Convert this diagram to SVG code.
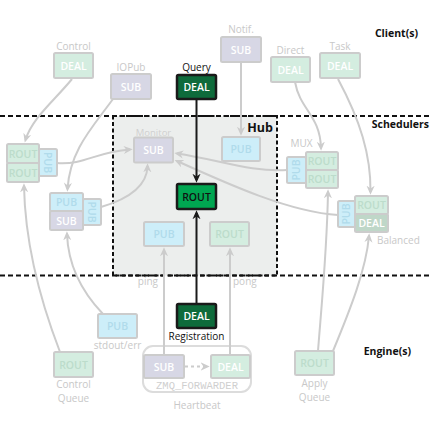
<svg xmlns="http://www.w3.org/2000/svg" width="432" height="432" viewBox="0 0 432 432">
<defs>
<style>
.bx{stroke:#cccccc;stroke-width:2}
.g{fill:#d4ede0}
.gd{fill:#bfd7c8}
.b{fill:#cdeef9}
.s{fill:#d7d7e5}
.t{font-family:"Open Sans","Liberation Sans",sans-serif;font-size:10.5px;font-weight:600;text-anchor:middle}
.tw{fill:#ffffff}
.tg{fill:#bcdccb}
.tb{fill:#b0dbeb}
.lb{font-family:"Open Sans","Liberation Sans",sans-serif;font-size:10px;fill:#c8c8c8;text-anchor:middle}
.lk{font-family:"Open Sans","Liberation Sans",sans-serif;font-size:10px;fill:#111111;text-anchor:middle}
.hd{font-family:"Open Sans","Liberation Sans",sans-serif;font-size:10.5px;font-weight:700;fill:#111111;text-anchor:end}
.c{fill:none;stroke:#cccccc;stroke-width:2;marker-end:url(#ag)}
.k{fill:none;stroke:#1a1a1a;stroke-width:2;marker-end:url(#ak)}
.sep{stroke:#111111;stroke-width:2;stroke-dasharray:5 3}
.hot{stroke:#1a1a1a;stroke-width:2.5}
</style>
<marker id="ag" viewBox="0 0 10 10" refX="7" refY="5" markerWidth="9" markerHeight="9" markerUnits="userSpaceOnUse" orient="auto">
<path d="M0,0.5 L10,5 L0,9.5 L3,5 z" fill="#cccccc"/>
</marker>
<marker id="ak" viewBox="0 0 10 10" refX="7" refY="5" markerWidth="9" markerHeight="9" markerUnits="userSpaceOnUse" orient="auto">
<path d="M0,0.5 L10,5 L0,9.5 L3,5 z" fill="#1a1a1a"/>
</marker>
</defs>
<rect width="432" height="432" fill="#ffffff"/>

<g id="hub-area">
<rect x="113" y="116" width="164" height="159.5" fill="#eceeed" stroke="#111111" stroke-width="2" stroke-dasharray="4 2.5"/>
<text x="273" y="132" class="hd" style="font-size:12.5px">Hub</text>
</g>
<g id="separators">
<line x1="0" y1="116" x2="432" y2="116" class="sep"/>
<line x1="0" y1="275.5" x2="432" y2="275.5" class="sep"/>
</g>
<g id="section-labels">
<text x="418" y="37" class="hd">Client(s)</text>
<text x="429" y="128" class="hd">Schedulers</text>
<text x="411" y="355" class="hd">Engine(s)</text>
</g>

<g id="heartbeat">
<rect x="143" y="346" width="108" height="46" rx="10" fill="#ffffff" stroke="#dcdcdc" stroke-width="2"/>
<text x="197" y="389" font-family="'Liberation Mono',monospace" font-size="10.5" fill="#cfcfcf" text-anchor="middle">ZMQ_FORWARDER</text>
<text x="197" y="409" class="lb">Heartbeat</text>
</g>

<g id="connectors">
<path class="c" d="M72,79 C55,100 32,118 25.5,140"/>
<path class="c" d="M113,99 C92,128 70,150 67.5,189"/>
<path class="c" d="M241,62 L241,133"/>
<path class="c" d="M295,82 C300,110 320,115 321,148"/>
<path class="c" d="M338,79 C360,120 371,155 370.5,192"/>
<path class="c" d="M57,163 C85,165 95,152 130,149.5"/>
<path class="c" d="M101,207 C125,200 147,188 147.5,166"/>
<path class="c" d="M287,170 C250,172 220,160 177,153.5"/>
<path class="c" d="M338,215 C290,212 230,185 177,161"/>
<path class="c" d="M164,355 L164,250"/>
<path class="c" d="M230,355 L230,250"/>
<path class="c" d="M60,352 C40,300 25,240 24,186"/>
<path class="c" d="M103,314 C80,290 68,262 67,234"/>
<path class="c" d="M318,351 C322,300 327,250 328,192"/>
<path class="c" d="M333,351 C350,310 366,270 369,236"/>
<path class="c" d="M185,366.5 L207,366.5" stroke-dasharray="3 3"/>
<path class="k" d="M196.5,99 L196.5,180"/>
<path class="k" d="M196.5,304 L196.5,213"/>
</g>

<g id="control-deal">
<text x="73.5" y="50" class="lb">Control</text>
<rect x="54" y="53" width="39" height="25" rx="1.5" class="bx g"/>
<text x="73.5" y="69.5" class="t tw">DEAL</text>
</g>
<g id="iopub-sub">
<text x="131" y="70.5" class="lb">IOPub</text>
<rect x="111" y="74" width="40" height="25" rx="1.5" class="bx s"/>
<text x="131" y="90.5" class="t tw">SUB</text>
</g>
<g id="query-deal">
<text x="196.5" y="71" class="lk">Query</text>
<rect x="177" y="75" width="39" height="24" rx="1.5" fill="#0e6b3b" class="hot"/>
<text x="196.5" y="91" class="t tw">DEAL</text>
</g>
<g id="notif-sub">
<text x="241" y="33" class="lb">Notif.</text>
<rect x="221" y="37" width="40" height="25" rx="1.5" class="bx s"/>
<text x="241" y="53.5" class="t tw">SUB</text>
</g>
<g id="direct-deal">
<text x="290.5" y="53.5" class="lb">Direct</text>
<rect x="271" y="57" width="39" height="25" rx="1.5" class="bx g"/>
<text x="290.5" y="73.5" class="t tw">DEAL</text>
</g>
<g id="task-deal">
<text x="340" y="49.5" class="lb">Task</text>
<rect x="320" y="53" width="40" height="25" rx="1.5" class="bx g"/>
<text x="340" y="69.5" class="t tw">DEAL</text>
</g>

<g id="control-sched">
<rect x="7" y="144" width="32" height="19" rx="1.5" class="bx g"/>
<rect x="7" y="163" width="32" height="19" rx="1.5" class="bx g"/>
<rect x="39" y="149" width="18" height="27" rx="1.5" class="bx b"/>
<text x="23" y="157.5" class="t tg">ROUT</text>
<text x="23" y="176.5" class="t tg">ROUT</text>
<text transform="translate(48,162.5) rotate(90)" x="0" y="3.8" class="t tb">PUB</text>
</g>
<g id="iopub-sched">
<rect x="50" y="193" width="33" height="18" rx="1.5" class="bx b"/>
<rect x="50" y="211" width="33" height="19" rx="1.5" class="bx s"/>
<rect x="83" y="199" width="18" height="26" rx="1.5" class="bx b"/>
<text x="66.5" y="206" class="t tb">PUB</text>
<text x="66.5" y="224.5" class="t tw">SUB</text>
<text transform="translate(92,212) rotate(90)" x="0" y="3.8" class="t tb">PUB</text>
</g>
<g id="monitor-sub">
<text x="153.5" y="136" class="lb" style="font-size:9.5px;fill:#d0d0d0">Monitor</text>
<rect x="134" y="137.5" width="39" height="25" rx="1.5" class="bx s"/>
<text x="153.5" y="154" class="t tw">SUB</text>
</g>
<g id="hub-notif-pub">
<rect x="222" y="137" width="38" height="24" rx="1.5" class="bx b"/>
<text x="241" y="153" class="t tb">PUB</text>
</g>
<g id="hub-rout">
<rect x="177" y="184" width="39" height="25" rx="1.5" fill="#00a651" class="hot"/>
<text x="196.5" y="200.5" class="t" fill="#111111">ROUT</text>
</g>
<g id="hub-hb-pub">
<rect x="144" y="222" width="40" height="24" rx="1.5" class="bx b"/>
<text x="164" y="238" class="t tb">PUB</text>
</g>
<g id="hub-hb-rout">
<rect x="210" y="222" width="39" height="24" rx="1.5" class="bx g"/>
<text x="229.5" y="238" class="t tg">ROUT</text>
</g>
<g id="mux">
<text x="301.5" y="146.5" class="lb">MUX</text>
<rect x="306" y="152" width="32" height="18" rx="1.5" class="bx g"/>
<rect x="306" y="170" width="32" height="18" rx="1.5" class="bx g"/>
<rect x="287" y="157" width="19" height="26" rx="1.5" class="bx b"/>
<text x="322" y="165" class="t tg">ROUT</text>
<text x="322" y="183" class="t tg">ROUT</text>
<text transform="translate(296.5,170) rotate(-90)" x="0" y="3.8" class="t tb">PUB</text>
</g>
<g id="balanced">
<rect x="355" y="196" width="33" height="18" rx="1.5" class="bx g"/>
<rect x="355" y="214" width="33" height="18" rx="1.5" class="bx gd"/>
<rect x="338" y="201" width="17" height="26" rx="1.5" class="bx b"/>
<text x="371.5" y="209" class="t tg">ROUT</text>
<text x="371.5" y="227" class="t tw">DEAL</text>
<text transform="translate(346.5,214) rotate(-90)" x="0" y="3.8" class="t tb">PUB</text>
<text x="377" y="243.5" class="lb" style="text-anchor:start">Balanced</text>
</g>

<g id="ping-pong-labels">
<text x="158" y="285" class="lb" style="text-anchor:end">ping</text>
<text x="233" y="285" class="lb" style="text-anchor:start">pong</text>
</g>

<g id="stdout-pub">
<rect x="98" y="314" width="39" height="24" rx="1.5" class="bx b"/>
<text x="117.5" y="330" class="t tb">PUB</text>
<text x="117.5" y="349" class="lb">stdout/err</text>
</g>
<g id="control-queue">
<rect x="54" y="352" width="39" height="25" rx="1.5" class="bx g"/>
<text x="73.5" y="368.5" class="t tg">ROUT</text>
<text x="73.5" y="388" class="lb">Control</text>
<text x="73.5" y="402" class="lb">Queue</text>
</g>
<g id="registration-deal">
<rect x="177" y="304" width="39" height="24" rx="1.5" fill="#0e6b3b" class="hot"/>
<text x="196.5" y="320" class="t tw">DEAL</text>
<text x="196.5" y="340" class="lk">Registration</text>
</g>
<g id="hb-sub">
<rect x="144" y="355" width="40" height="23" rx="1.5" class="bx s"/>
<text x="164" y="370.5" class="t tw">SUB</text>
</g>
<g id="hb-deal">
<rect x="211" y="355" width="39" height="23" rx="1.5" class="bx g"/>
<text x="230.5" y="370.5" class="t tw">DEAL</text>
</g>
<g id="apply-queue">
<rect x="295" y="351" width="39" height="24" rx="1.5" class="bx g"/>
<text x="314.5" y="367" class="t tg">ROUT</text>
<text x="314.5" y="387" class="lb">Apply</text>
<text x="314.5" y="401" class="lb">Queue</text>
</g>
</svg>
